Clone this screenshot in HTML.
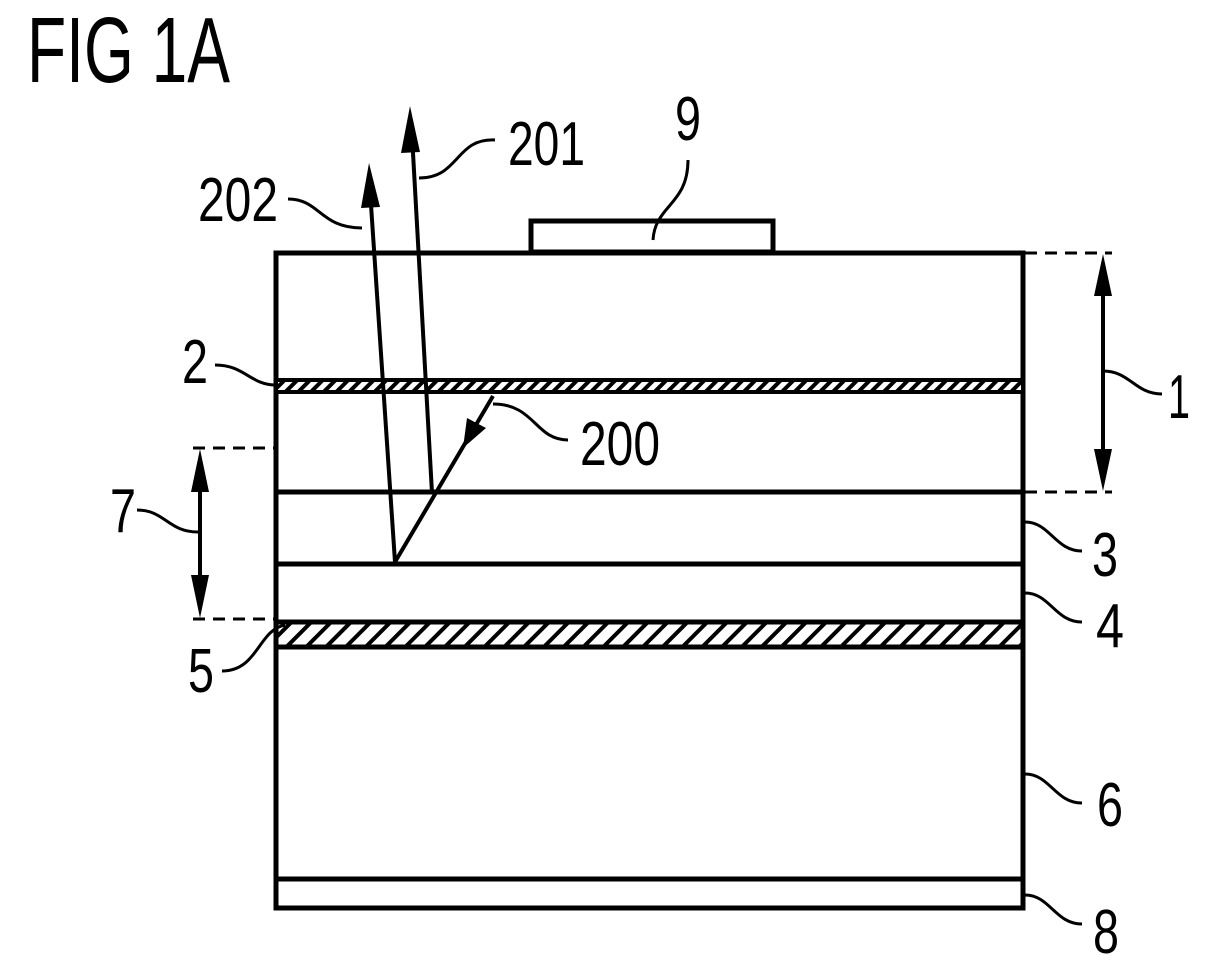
<!DOCTYPE html>
<html><head><meta charset="utf-8"><style>
html,body{margin:0;padding:0;background:#fff;}
svg{display:block;}
text{font-family:"Liberation Sans",sans-serif;fill:#000;}
</style></head><body>
<svg width="1217" height="969" viewBox="0 0 1217 969" xmlns="http://www.w3.org/2000/svg">
<defs>
<pattern id="h1" width="9" height="9" patternUnits="userSpaceOnUse" patternTransform="rotate(45)">
<rect width="9" height="9" fill="#fff"/><rect width="4" height="9" fill="#000"/></pattern>
<pattern id="h2" width="14" height="14" patternUnits="userSpaceOnUse" patternTransform="rotate(45)">
<rect width="14" height="14" fill="#fff"/><rect width="4" height="14" fill="#000"/></pattern>
</defs>
<text x="27" y="82" font-size="93" textLength="203" lengthAdjust="spacingAndGlyphs">FIG 1A</text>

<rect x="531" y="221" width="242" height="31" fill="none" stroke="#000" stroke-width="5"/>
<rect x="276" y="253" width="747" height="655" fill="none" stroke="#000" stroke-width="5"/>
<rect x="276" y="380" width="747" height="12" fill="url(#h1)" stroke="#000" stroke-width="4"/>
<line x1="276" y1="492" x2="1023" y2="492" stroke="#000" stroke-width="5"/>
<line x1="276" y1="564" x2="1023" y2="564" stroke="#000" stroke-width="5"/>
<rect x="276" y="622" width="747" height="25" fill="url(#h2)" stroke="#000" stroke-width="5"/>
<line x1="276" y1="879" x2="1023" y2="879" stroke="#000" stroke-width="5"/>

<g stroke="#000" stroke-width="3" stroke-dasharray="12,8">
<line x1="1025" y1="253" x2="1112" y2="253"/>
<line x1="1025" y1="492" x2="1112" y2="492"/>
<line x1="193" y1="448" x2="274" y2="448"/>
<line x1="193" y1="619" x2="274" y2="619"/>
</g>

<line x1="1103" y1="280" x2="1103" y2="465" stroke="#000" stroke-width="4"/>
<polygon points="1103,254 1094,296 1112,296" fill="#000"/>
<polygon points="1103,491 1094,449 1112,449" fill="#000"/>
<line x1="200" y1="470" x2="200" y2="600" stroke="#000" stroke-width="4"/>
<polygon points="200,449 191,492 209,492" fill="#000"/>
<polygon points="200,618 191,575 209,575" fill="#000"/>

<g stroke="#000" stroke-width="4" fill="none">
<line x1="395" y1="562" x2="370" y2="190"/>
<line x1="432" y1="493" x2="412" y2="135"/>
<line x1="395" y1="562" x2="493" y2="396"/>
</g>
<polygon points="369,163 361,208 380,207" fill="#000"/>
<polygon points="410,106 401,153 420,152" fill="#000"/>
<polygon points="463,448 467,418 486,428" fill="#000"/>

<g stroke="#000" stroke-width="3" fill="none">
<path d="M288,199 C320,199 320,228 362,228"/>
<path d="M419,178 C460,178 455,138 495,140"/>
<path d="M688,160 C688,205 655,205 653,240"/>
<path d="M493,404 C535,404 535,440 568,440"/>
<path d="M215,365 C245,365 250,385 276,385"/>
<path d="M1103,371 C1130,371 1135,394 1162,394"/>
<path d="M137,510 C165,510 168,532 198,532"/>
<path d="M222,671 C258,671 258,630 285,625"/>
<path d="M1025,522 C1050,522 1055,551 1082,551"/>
<path d="M1025,593 C1050,593 1055,622 1082,622"/>
<path d="M1025,774 C1050,774 1055,803 1082,803"/>
<path d="M1025,895 C1050,895 1055,924 1082,924"/>
</g>

<g font-size="62">
<text x="508" y="165" textLength="77" lengthAdjust="spacingAndGlyphs">201</text>
<text x="198" y="221" textLength="80" lengthAdjust="spacingAndGlyphs">202</text>
<text x="675" y="140" textLength="26" lengthAdjust="spacingAndGlyphs">9</text>
<text x="580" y="465" textLength="80" lengthAdjust="spacingAndGlyphs">200</text>
<text x="182" y="383" textLength="26" lengthAdjust="spacingAndGlyphs">2</text>
<text x="1168" y="418" textLength="22" lengthAdjust="spacingAndGlyphs">1</text>
<text x="110" y="532" textLength="26" lengthAdjust="spacingAndGlyphs">7</text>
<text x="1092" y="576" textLength="26" lengthAdjust="spacingAndGlyphs">3</text>
<text x="1096" y="647" textLength="28" lengthAdjust="spacingAndGlyphs">4</text>
<text x="188" y="692" textLength="26" lengthAdjust="spacingAndGlyphs">5</text>
<text x="1097" y="826" textLength="26" lengthAdjust="spacingAndGlyphs">6</text>
<text x="1093" y="953" textLength="26" lengthAdjust="spacingAndGlyphs">8</text>
</g>
</svg>
</body></html>
